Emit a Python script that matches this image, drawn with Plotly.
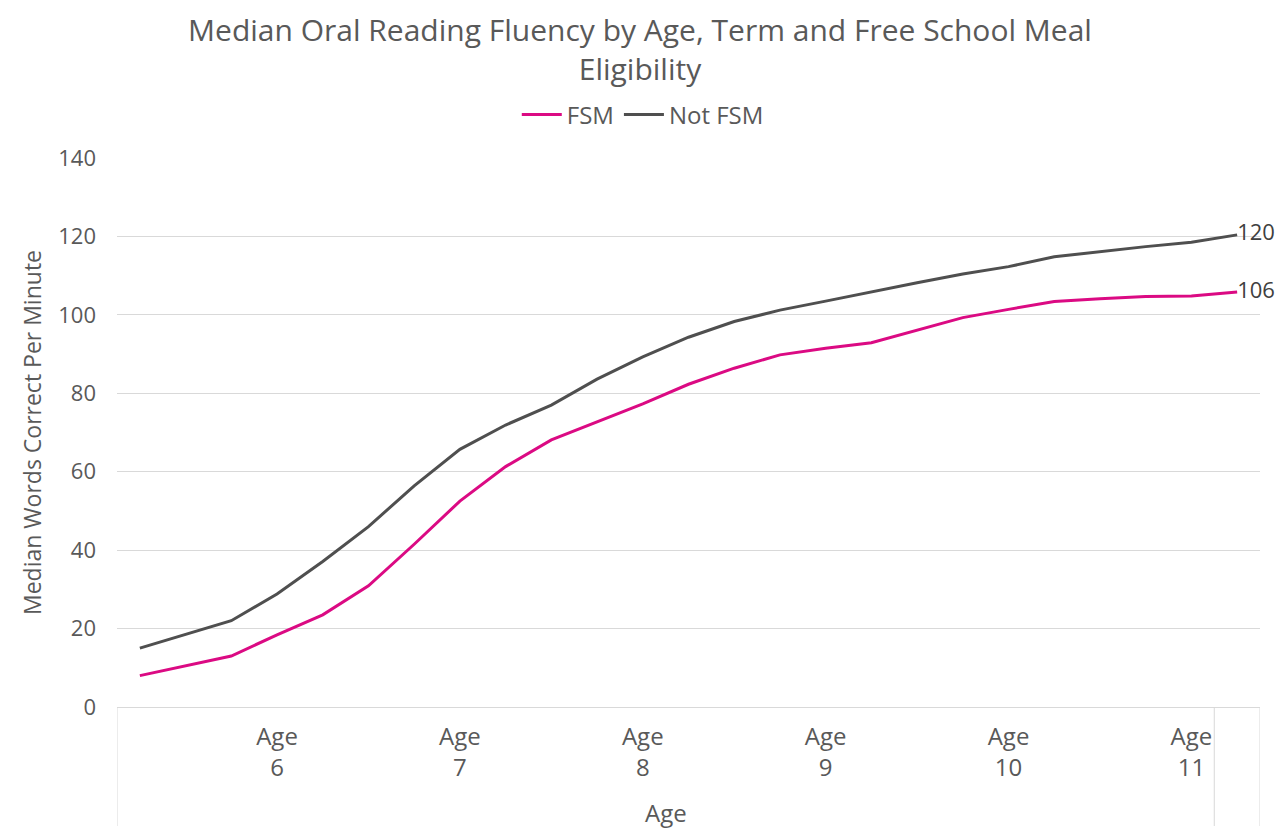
import plotly.graph_objects as go

# ---- data ----
categories = list(range(25))  # term points, Age 5.x .. Age 11.x
fsm = [8.0, 10.5, 13.0, 18.4, 23.5, 30.9, 41.5, 52.5, 61.3, 68.1, 72.8, 77.3, 82.3,
       86.4, 89.8, 91.5, 92.9, 96.1, 99.3, 101.4, 103.4, 104.1, 104.7, 104.8, 105.8]
not_fsm = [15.0, 18.5, 22.0, 28.8, 37.1, 46.0, 56.4, 65.7, 71.9, 77.0, 83.6, 89.3, 94.3,
           98.3, 101.2, 103.5, 105.9, 108.2, 110.4, 112.3, 114.8, 116.1, 117.4, 118.5, 120.4]
age_tick_positions = [3, 7, 11, 15, 19, 23]
age_tick_labels = ["Age<br>6", "Age<br>7", "Age<br>8", "Age<br>9", "Age<br>10", "Age<br>11"]
group_dividers = [-0.5, 23.5, 24.5]
y_ticks = [0, 20, 40, 60, 80, 100, 120, 140]

FONT = "Open Sans"
GREY = "#595959"
PINK = "#DB0A83"
DARK = "#4F4F4F"

def end_labels(vals):
    return [""] * (len(vals) - 1) + [f"{round(vals[-1])}"]

fig = go.Figure()
fig.add_trace(go.Scatter(
    x=categories, y=fsm, name="FSM", mode="lines+text",
    line=dict(color=PINK, width=3),
    text=end_labels(fsm), textposition="middle right",
    textfont=dict(family=FONT, size=22, color="#404040"),
    cliponaxis=False,
))
fig.add_trace(go.Scatter(
    x=categories, y=not_fsm, name="Not FSM", mode="lines+text",
    line=dict(color=DARK, width=3),
    text=end_labels(not_fsm), textposition="middle right",
    textfont=dict(family=FONT, size=22, color="#404040"),
    cliponaxis=False,
))

# box lines of the category axis
plot_h = 707 - 158
bottom = -(826 - 707) / plot_h
for xv in group_dividers:
    fig.add_shape(type="line", xref="x", yref="paper", x0=xv, x1=xv, y0=0, y1=bottom,
                  line=dict(color="#D9D9D9", width=1))

fig.add_annotation(text="Age", xref="x", yref="paper",
                   x=(group_dividers[0] + group_dividers[1]) / 2,
                   y=-(812 - 707) / plot_h, showarrow=False,
                   font=dict(family=FONT, size=24, color=GREY), yanchor="middle")

fig.update_layout(
    width=1280, height=836,
    margin=dict(l=117, r=20, t=158, b=129),
    paper_bgcolor="white", plot_bgcolor="white",
    font=dict(family=FONT, color=GREY),
    title=dict(
        text="Median Oral Reading Fluency by Age, Term and Free School Meal<br>Eligibility",
        x=0.5, xanchor="center", y=1 - 41 / 836, yanchor="middle",
        font=dict(family=FONT, size=30, color=GREY),
    ),
    legend=dict(orientation="h", x=0.46, xanchor="center", y=1 + (158 - 115) / plot_h,
                yanchor="middle", font=dict(family=FONT, size=24, color=GREY),
                itemwidth=40, traceorder="normal"),
    showlegend=True,
)
fig.update_xaxes(
    range=[-0.5, 24.5], tickmode="array", tickvals=age_tick_positions,
    ticktext=age_tick_labels, showgrid=False, zeroline=False,
    showline=True, linecolor="#D9D9D9", linewidth=1,
    tickfont=dict(family=FONT, size=24, color=GREY), ticks="",
    ticklabelstandoff=8,
)
fig.update_yaxes(
    range=[0, 140], tickvals=y_ticks, showgrid=True, gridcolor="#D9D9D9", gridwidth=1,
    zeroline=False, showline=False,
    tickfont=dict(family=FONT, size=22, color=GREY), ticklabelstandoff=20,
    title=dict(text="Median Words Correct Per Minute", font=dict(family=FONT, size=23, color=GREY),
               standoff=10),
)

fig.write_html("out.html")
